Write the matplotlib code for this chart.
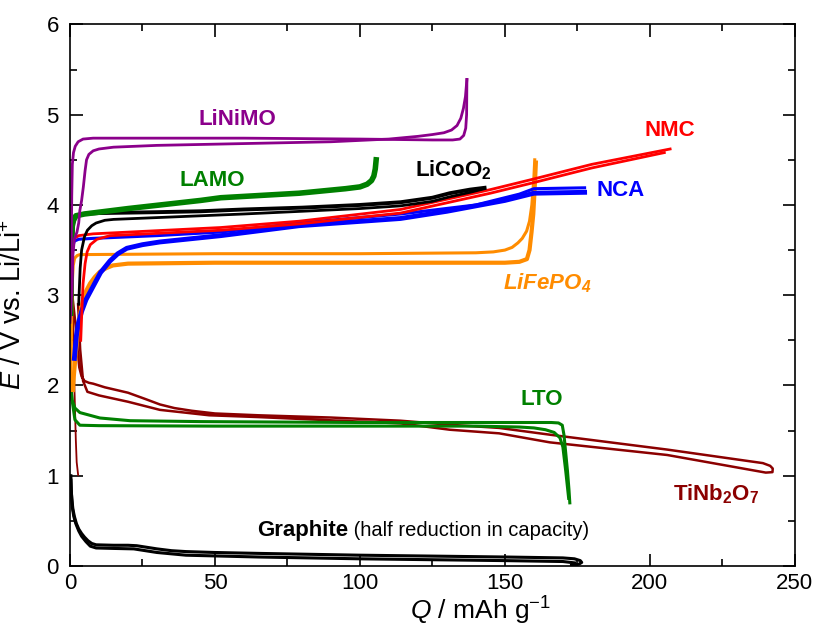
import numpy as np
import matplotlib.pyplot as plt
from matplotlib.ticker import MultipleLocator

plt.rcParams['font.family'] = ['Liberation Sans', 'DejaVu Sans']
plt.rcParams['mathtext.fontset'] = 'custom'
plt.rcParams['mathtext.rm'] = 'Liberation Sans'
plt.rcParams['mathtext.it'] = 'Liberation Sans:italic'
plt.rcParams['mathtext.bf'] = 'Liberation Sans:bold'
plt.rcParams['mathtext.bfit'] = 'Liberation Sans:italic:bold'

# ---- data (Q in mAh/g, E in V vs Li/Li+) ----
# LiNiMO
nimo_chg_q = [0.3, 0.45, 0.6, 0.8, 1.2, 1.8, 2.8, 4.5, 8, 20, 60, 100, 125, 132, 134.5, 135.8, 136.5, 136.8, 136.9]
nimo_chg_e = [3.0, 3.6, 4.1, 4.45, 4.58, 4.65, 4.7, 4.73, 4.74, 4.74, 4.74, 4.73, 4.72, 4.72, 4.73, 4.77, 4.85, 5.0, 5.39]
nimo_dis_q = [0.0, 0.4, 0.7, 1.0, 1.5, 2.4, 3.0, 3.4, 4.0, 4.6, 5.2, 5.7, 6.5, 8, 10, 15, 30, 60, 90,
              110, 120, 125, 129, 131.6, 133.5, 134.8, 135.7, 136.4, 136.9]
nimo_dis_e = [2.7, 2.9, 3.1, 3.45, 3.62, 3.7, 3.8, 3.94, 4.05, 4.2, 4.38, 4.5, 4.56, 4.6, 4.62, 4.64, 4.66, 4.68, 4.70,
              4.73, 4.76, 4.78, 4.80, 4.83, 4.88, 4.96, 5.07, 5.2, 5.39]

# LAMO
lamo_q = [0.2, 0.4, 0.8, 2, 5, 10, 20, 45, 52, 79, 95, 100, 102.5, 104, 104.8, 105.3, 105.6]
lamo_e = [2.8, 3.5, 3.8, 3.88, 3.9, 3.92, 3.96, 4.05, 4.08, 4.13, 4.18, 4.2, 4.23, 4.27, 4.32, 4.4, 4.5]

# LiCoO2
lco_chg_q = [0.5, 0.7, 1.0, 1.5, 2.5, 4, 10, 30, 45, 60, 80, 100, 114, 125, 131, 138, 143]
lco_chg_e = [3.0, 3.5, 3.75, 3.85, 3.88, 3.9, 3.91, 3.92, 3.93, 3.95, 3.97, 4.0, 4.03, 4.08, 4.13, 4.17, 4.19]
lco_dis_q = [3.0, 3.5, 4, 5, 6, 7.5, 9, 12, 15, 30, 45, 60, 80, 100, 114, 125, 131, 138, 143]
lco_dis_e = [2.9, 3.3, 3.5, 3.65, 3.72, 3.77, 3.8, 3.83, 3.84, 3.86, 3.88, 3.90, 3.93, 3.96, 3.99, 4.04, 4.09, 4.14, 4.18]

# NMC
nmc_chg_q = [0.5, 0.7, 1.0, 1.5, 3, 8, 52, 79, 114, 145, 159, 180, 207]
nmc_chg_e = [3.0, 3.4, 3.58, 3.63, 3.66, 3.68, 3.75, 3.82, 3.95, 4.17, 4.28, 4.45, 4.62]
nmc_dis_q = [3.7, 4.0, 4.5, 5.2, 5.9, 7, 9.3, 13.8, 52, 79, 114, 145, 159, 180, 205]
nmc_dis_e = [2.5, 2.76, 3.13, 3.35, 3.48, 3.56, 3.62, 3.66, 3.72, 3.79, 3.91, 4.13, 4.24, 4.41, 4.58]

# NCA
nca_chg_q = [0.5, 0.7, 1.0, 1.5, 3, 8, 30, 52, 79, 114, 140, 155, 160, 177.5]
nca_chg_e = [3.0, 3.4, 3.55, 3.6, 3.62, 3.63, 3.66, 3.70, 3.80, 3.90, 4.00, 4.12, 4.18, 4.19]
nca_dis_q = [177.5, 160, 150, 130, 114, 79, 52, 40, 31, 25, 19.6, 16.5, 13.8, 10.5, 8, 5.5, 4, 2.9, 2.2, 1.5]
nca_dis_e = [4.14, 4.13, 4.05, 3.93, 3.85, 3.77, 3.66, 3.62, 3.59, 3.56, 3.52, 3.46, 3.38, 3.25, 3.1, 2.95, 2.82, 2.69, 2.55, 2.3]

# LiFePO4
lfp_chg_q = [0.3, 0.4, 0.6, 0.8, 1.1, 1.6, 2.5, 3.4, 50, 100, 140, 146, 150, 152.5, 154.5, 156, 157.5, 158.5, 159.3, 160, 160.3]
lfp_chg_e = [1.95, 2.3, 2.8, 3.15, 3.33, 3.41, 3.44, 3.45, 3.46, 3.46, 3.47, 3.48, 3.5, 3.53, 3.58, 3.63, 3.71, 3.82, 4.0, 4.3, 4.5]
lfp_dis_q = [160.7, 160.3, 159.8, 159.2, 158.5, 157.6, 155, 150, 100, 50, 20, 14.8, 12.5, 10.3, 8.5, 6.9, 5.6, 4.5, 3.5,
             2.8, 2.2, 1.7, 1.3, 1.0]
lfp_dis_e = [4.47, 4.2, 3.9, 3.7, 3.5, 3.4, 3.37, 3.36, 3.36, 3.36, 3.35, 3.33, 3.3, 3.26, 3.2, 3.13, 3.05, 2.95, 2.8,
             2.61, 2.45, 2.25, 2.1, 1.95]

# LTO
lto_chg_q = [0.3, 0.7, 1.7, 3.4, 10.3, 20.7, 45, 100, 160, 166, 168.5, 169.8, 170.4, 171, 171.6, 172.1, 172.4]
lto_chg_e = [2.0, 1.84, 1.75, 1.70, 1.64, 1.61, 1.60, 1.59, 1.59, 1.59, 1.585, 1.56, 1.45, 1.25, 1.05, 0.85, 0.70]
lto_dis_q = [0.2, 0.7, 1.7, 3.4, 10, 50, 100, 140, 155, 160, 164, 167, 169, 170, 171, 172]
lto_dis_e = [2.0, 1.84, 1.62, 1.56, 1.555, 1.55, 1.55, 1.55, 1.54, 1.53, 1.51, 1.48, 1.42, 1.32, 1.05, 0.75]

# TiNb2O7 (one loop: lithiation upper branch, turn at ~242, delithiation lower branch)
tno_a_q = [0.8, 1.3, 2.0, 2.6, 3.2, 4, 5, 6.5, 8, 12, 20, 26, 31, 36, 42, 50, 65, 90, 114, 131, 148, 165.5,
           206, 239, 241.5, 242.4, 242.3, 240, 206, 165.5, 148, 131, 114, 65, 48, 31, 20, 10, 6, 4.5, 3.5, 2.8]
tno_a_e = [3.0, 2.85, 2.65, 2.4, 2.2, 2.1, 2.05, 2.03, 2.02, 1.98, 1.92, 1.85, 1.79, 1.75, 1.72, 1.69, 1.67, 1.645,
           1.61, 1.565, 1.53, 1.455, 1.29, 1.14, 1.11, 1.08, 1.04, 1.035, 1.23, 1.37, 1.47, 1.51, 1.58, 1.65, 1.67,
           1.73, 1.82, 1.89, 1.93, 2.05, 2.4, 2.9]
tno_c_q = [1.0, 1.5, 2.0, 2.3, 2.8]
tno_c_e = [2.9, 2.0, 1.4, 1.15, 1.01]

# Graphite (half capacity)
gr_a_q = [0.3, 0.4, 0.6, 1.0, 1.5, 2.2, 3, 4, 5, 6.2, 7.5, 9, 15, 20, 23, 26, 30, 35, 40, 50, 65, 100, 150,
          170, 174, 176, 176.5, 175.5, 173]
gr_a_e = [1.0, 0.85, 0.75, 0.63, 0.55, 0.47, 0.41, 0.36, 0.32, 0.28, 0.25, 0.235, 0.23, 0.23, 0.225, 0.21, 0.19,
          0.17, 0.16, 0.15, 0.14, 0.12, 0.10, 0.09, 0.08, 0.06, 0.04, 0.02, 0.01]
gr_b_q = [0.3, 0.5, 0.8, 1.3, 2, 3, 4, 5.5, 7, 9, 15, 22, 26, 30, 40, 65, 100, 150, 170, 174]
gr_b_e = [0.95, 0.8, 0.65, 0.55, 0.47, 0.39, 0.33, 0.27, 0.22, 0.2, 0.195, 0.19, 0.17, 0.15, 0.12, 0.10, 0.08, 0.06,
          0.05, 0.035]

purple = '#8B008B'
green = '#008000'
red = '#FF0000'
blue = '#0000FF'
orange = '#FF8C00'
dred = '#8B0000'

fig = plt.figure(figsize=(8.16, 6.26), dpi=100)
ax = fig.add_axes([0.0858, 0.0958, 0.8882, 0.8652])

ax.plot(gr_a_q, gr_a_e, color='black', lw=2.2)
ax.plot(gr_b_q, gr_b_e, color='black', lw=2.2)
ax.plot(tno_a_q, tno_a_e, color=dred, lw=1.8)
ax.plot(tno_c_q, tno_c_e, color=dred, lw=1.3)
ax.plot(lto_chg_q, lto_chg_e, color=green, lw=2.2)
ax.plot(lto_dis_q, lto_dis_e, color=green, lw=2.2)
ax.plot(lfp_chg_q, lfp_chg_e, color=orange, lw=2.2)
ax.plot(lfp_dis_q, lfp_dis_e, color=orange, lw=3.0)
ax.plot(nca_chg_q, nca_chg_e, color=blue, lw=2.2)
ax.plot(nca_dis_q, nca_dis_e, color=blue, lw=3.5)
ax.plot(nmc_chg_q, nmc_chg_e, color=red, lw=2.0)
ax.plot(nmc_dis_q, nmc_dis_e, color=red, lw=2.0)
ax.plot(lco_chg_q, lco_chg_e, color='black', lw=2.8)
ax.plot(lco_dis_q, lco_dis_e, color='black', lw=2.0)
ax.plot(lamo_q, lamo_e, color=green, lw=4.0)
ax.plot(nimo_chg_q, nimo_chg_e, color=purple, lw=2.0)
ax.plot(nimo_dis_q, nimo_dis_e, color=purple, lw=2.0)

fs = 16
ax.text(57.6, 4.95, 'LiNiMO', color=purple, fontsize=fs, fontweight='bold', ha='center', va='center')
ax.text(49, 4.27, 'LAMO', color=green, fontsize=fs, fontweight='bold', ha='center', va='center')
ax.text(119, 4.39, r'LiCoO$_\mathbf{2}$', color='black', fontsize=fs, fontweight='bold', ha='left', va='center')
ax.text(207, 4.82, 'NMC', color=red, fontsize=fs, fontweight='bold', ha='center', va='center')
ax.text(190, 4.16, 'NCA', color=blue, fontsize=fs, fontweight='bold', ha='center', va='center')
ax.text(149.3, 3.13, r'LiFePO$_\mathbfit{4}$', color=orange, fontsize=fs, fontweight='bold',
        style='italic', ha='left', va='center')
ax.text(162.8, 1.85, 'LTO', color=green, fontsize=fs, fontweight='bold', ha='center', va='center')
ax.text(208, 0.80, r'TiNb$_\mathbf{2}$O$_\mathbf{7}$', color=dred, fontsize=fs, fontweight='bold',
        ha='left', va='center')
t = ax.text(64.5, 0.39, 'Graphite', color='black', fontsize=fs, fontweight='bold', ha='left', va='center')
ax.annotate(' (half reduction in capacity)', xycoords=t, xy=(1, 0.5), va='center', ha='left',
            fontsize=14.5, color='black')

ax.set_xlim(0, 250)
ax.set_ylim(0, 6)
ax.xaxis.set_major_locator(MultipleLocator(50))
ax.xaxis.set_minor_locator(MultipleLocator(25))
ax.yaxis.set_major_locator(MultipleLocator(1))
ax.yaxis.set_minor_locator(MultipleLocator(0.5))
ax.tick_params(which='both', direction='in', top=True, right=True, width=1.2, labelsize=16)
ax.tick_params(which='major', length=9)
ax.tick_params(which='minor', length=5)
ax.tick_params(axis='y', pad=8)
ax.tick_params(axis='x', pad=5)
for s in ax.spines.values():
    s.set_linewidth(1.2)

ax.set_xlabel(r'$Q$ / mAh g$^{-1}$', fontsize=19)
ax.set_ylabel(r'$E$ / V vs. Li/Li$^{+}$', fontsize=19.5)
ax.xaxis.set_label_coords(0.566, -0.054)
ax.yaxis.set_label_coords(-0.06, 0.482)

fig.savefig('out.png', dpi=100)
